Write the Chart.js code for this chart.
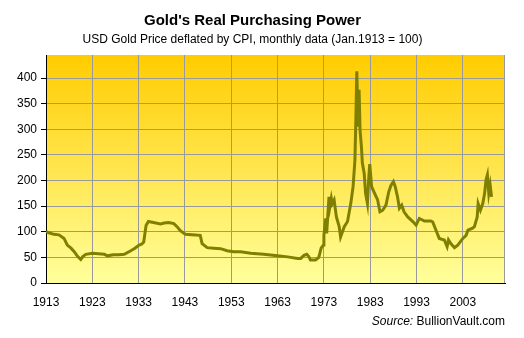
<!DOCTYPE html>
<html>
<head>
<meta charset="utf-8">
<script src="https://cdn.jsdelivr.net/npm/chart.js@4"></script>
<style>
  html, body { margin: 0; padding: 0; background: #ffffff; }
  #wrap { width: 524px; height: 338px; }
</style>
</head>
<body>
<div id="wrap"><canvas id="chart" width="524" height="338"></canvas></div>
<script>
// Real (CPI-deflated) USD gold price, Jan.1913 = 100 — sampled at turning points
const dates = [
  1913.0, 1913.6, 1914.7, 1915.8, 1916.9, 1917.6, 1918.4, 1919.1, 1919.8, 1920.5,
  1921.0, 1921.6, 1923.0, 1924.3, 1925.6, 1926.3, 1927.5, 1928.7, 1929.9, 1931.3,
  1932.2, 1933.1, 1933.7, 1934.1, 1934.6, 1935.1, 1936.2, 1937.7, 1938.5, 1939.5,
  1940.6, 1941.3, 1942.0, 1943.1, 1944.5, 1946.3, 1946.7, 1947.8, 1949.2, 1950.7,
  1952.1, 1953.5, 1955.0, 1957.2, 1960.0, 1963.0, 1965.2, 1967.3, 1968.0, 1968.7,
  1969.3, 1969.7, 1970.1, 1971.2, 1971.9, 1972.4, 1972.9, 1973.0, 1973.4, 1973.6,
  1974.1, 1974.3, 1974.6, 1974.8, 1975.2, 1975.7, 1976.3, 1976.6, 1977.4, 1978.1,
  1978.8, 1979.3, 1979.7, 1979.9, 1980.1, 1980.4, 1980.6, 1980.8, 1981.1, 1981.3,
  1981.7, 1982.0, 1982.4, 1982.7, 1982.9, 1983.3, 1983.8, 1984.6, 1985.1, 1985.7,
  1986.4, 1987.0, 1987.5, 1988.0, 1988.4, 1988.9, 1989.3, 1989.8, 1990.3, 1991.1,
  1992.2, 1992.9, 1993.6, 1994.7, 1996.1, 1996.5, 1997.2, 1997.9, 1999.0, 1999.6,
  1999.9, 2000.4, 2001.2, 2001.9, 2003.0, 2003.7, 2004.1, 2005.1, 2005.5, 2006.1,
  2006.3, 2006.8, 2007.3, 2007.7, 2008.0, 2008.3, 2008.6, 2008.9, 2009.2
];
const realGold = [
  100, 98, 95, 94, 87, 74, 68, 61, 52, 46,
  52, 56, 58, 57, 56, 53, 55, 55, 56, 63,
  68, 74, 76, 80, 112, 120, 118, 115, 117, 118,
  116, 110, 102, 95, 94, 93, 77, 69, 68, 67,
  63, 61, 61, 58, 56, 53, 51, 48, 48, 54,
  56, 52, 45, 45, 50, 68, 74, 93, 126, 97,
  168, 149, 165, 155, 162, 129, 110, 90, 110, 120,
  155, 188, 240, 318, 413, 305, 377, 299, 266, 234,
  214, 175, 155, 207, 232, 188, 178, 162, 139, 142,
  152, 178, 191, 198, 188, 168, 146, 152, 139, 129,
  120, 113, 126, 121, 121, 119, 103, 87, 84, 71,
  84, 77, 69, 74, 87, 93, 103, 107, 110, 129,
  155, 142, 155, 175, 201, 211, 175, 191, 168
];
const yearTicks = [1913, 1923, 1933, 1943, 1953, 1963, 1973, 1983, 1993, 2003];
const valueTicks = [0, 50, 100, 150, 200, 250, 300, 350, 400];

const FONT = "'Liberation Sans', Arial, sans-serif";

// Golden gradient behind the plot, plus the grey frame on the right
const plotBackground = {
  id: 'plotBackground',
  beforeDraw(chart) {
    const { ctx, chartArea: a } = chart;
    const g = ctx.createLinearGradient(0, a.top, 0, a.bottom);
    g.addColorStop(0, '#ffcc00');
    g.addColorStop(1, '#ffff9c');
    ctx.save();
    ctx.fillStyle = g;
    ctx.fillRect(a.left, a.top, a.right - a.left, a.bottom - a.top);
    ctx.restore();
  },
  beforeDatasetsDraw(chart) {
    const { ctx, chartArea: a } = chart;
    ctx.save();
    ctx.strokeStyle = '#999999';
    ctx.lineWidth = 1;
    ctx.beginPath();
    ctx.moveTo(a.right - 0.5, a.top);
    ctx.lineTo(a.right - 0.5, a.bottom);
    ctx.stroke();
    ctx.restore();
  }
};

// Source credit under the x axis, right aligned
const sourceNote = {
  id: 'sourceNote',
  afterDraw(chart) {
    const { ctx, chartArea: a } = chart;
    const rest = ' BullionVault.com';
    ctx.save();
    ctx.fillStyle = '#000000';
    ctx.textBaseline = 'middle';
    ctx.textAlign = 'left';
    ctx.font = '12px ' + FONT;
    const wRest = ctx.measureText(rest).width;
    ctx.font = 'italic 12px ' + FONT;
    const wSrc = ctx.measureText('Source:').width;
    const x0 = a.right - wRest - wSrc;
    const y = 322;
    ctx.fillText('Source:', x0, y);
    ctx.font = '12px ' + FONT;
    ctx.fillText(rest, x0 + wSrc, y);
    ctx.restore();
  }
};

new Chart(document.getElementById('chart'), {
  type: 'line',
  data: {
    datasets: [{
      data: dates.map((d, i) => ({ x: d, y: realGold[i] })),
      borderColor: '#808000',
      borderWidth: 3,
      pointRadius: 0,
      tension: 0,
      fill: false
    }]
  },
  options: {
    responsive: false,
    animation: false,
    devicePixelRatio: 1,
    layout: { padding: { left: 0, right: 19, top: 0, bottom: 0 } },
    plugins: {
      legend: { display: false },
      tooltip: { enabled: false },
      title: {
        display: true,
        text: "Gold's Real Purchasing Power",
        color: '#000000',
        font: { family: FONT, size: 15, weight: 'bold' },
        padding: { top: 12, bottom: 0 }
      },
      subtitle: {
        display: true,
        text: 'USD Gold Price deflated by CPI, monthly data (Jan.1913 = 100)',
        color: '#000000',
        font: { family: FONT, size: 12 },
        padding: { top: 2.8, bottom: 7.8 }
      }
    },
    scales: {
      x: {
        type: 'linear',
        min: 1913,
        max: 2012.1,
        afterBuildTicks(scale) { scale.ticks = yearTicks.map(v => ({ value: v })); },
        afterFit(scale) { scale.height = 55; },
        grid: { color: '#999999', lineWidth: 1, drawTicks: false },
        border: { color: '#000000', width: 1 },
        ticks: {
          color: '#000000',
          font: { family: FONT, size: 12 },
          padding: 12,
          maxRotation: 0,
          autoSkip: false,
          callback: v => String(v)
        }
      },
      y: {
        min: 0,
        max: 445,
        afterBuildTicks(scale) { scale.ticks = valueTicks.map(v => ({ value: v })); },
        afterFit(scale) { scale.width = 46; },
        grid: { color: '#999999', lineWidth: 1, tickLength: 5, tickColor: '#000000' },
        border: { color: '#000000', width: 1 },
        ticks: {
          color: '#000000',
          font: { family: FONT, size: 12 },
          padding: 4,
          callback: v => String(v)
        }
      }
    }
  },
  plugins: [plotBackground, sourceNote]
});
</script>
</body>
</html>
